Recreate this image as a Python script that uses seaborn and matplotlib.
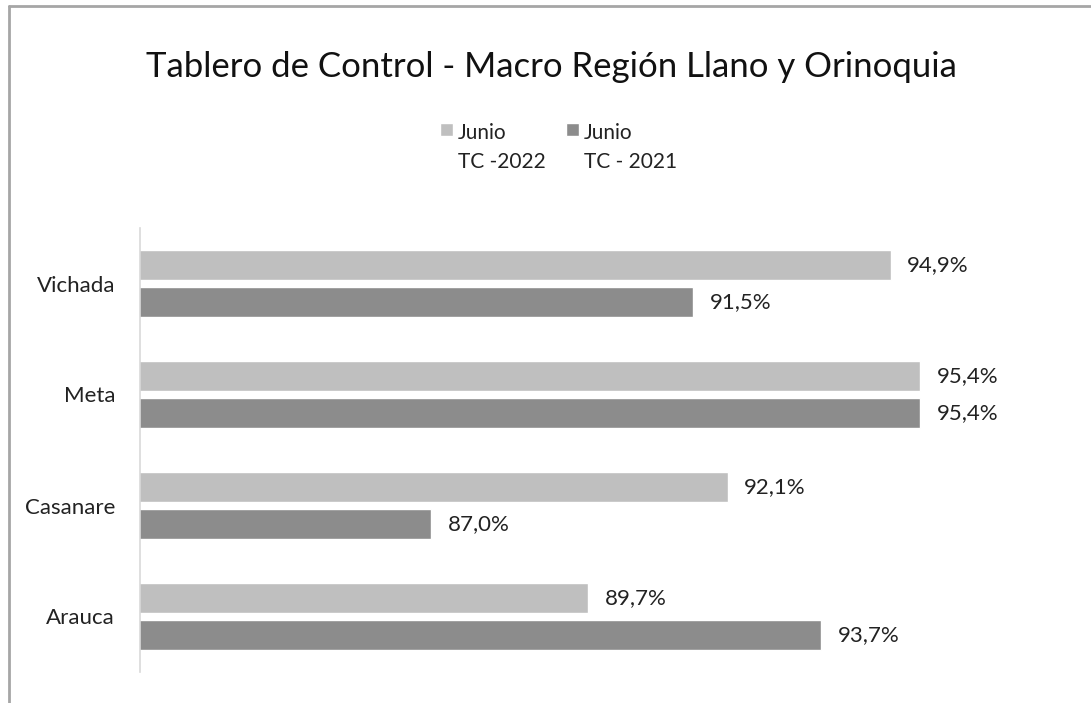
import matplotlib
matplotlib.use("Agg")
import matplotlib.pyplot as plt
import seaborn as sns
import pandas as pd
from matplotlib.lines import Line2D

departments = ["Vichada", "Meta", "Casanare", "Arauca"]
series_names = ["Junio\nTC -2022", "Junio\nTC - 2021"]
values_2022 = [94.9, 95.4, 92.1, 89.7]
values_2021 = [91.5, 95.4, 87.0, 93.7]
colors = ["#BFBFBF", "#8C8C8C"]

df = pd.DataFrame({
    "dep": departments * 2,
    "serie": [series_names[0]] * 4 + [series_names[1]] * 4,
    "valor": values_2022 + values_2021,
})

sns.set_style("white")
plt.rcParams["font.family"] = ["Lato", "DejaVu Sans"]

fig = plt.figure(figsize=(10.91, 7.03), dpi=100)
ax = fig.add_axes([140 / 1091, 1 - 672 / 703, (1071 - 140) / 1091, (672 - 228) / 703])

sns.barplot(data=df, y="dep", x="valor", hue="serie", order=departments,
            hue_order=series_names, palette=colors, orient="h",
            width=0.67, gap=0.19, ax=ax, legend=True, saturation=1)

ax.set_xlim(82, 98)
ax.set_ylim(3.5, -0.5)
ax.set_xlabel("")
ax.set_ylabel("")
ax.set_xticks([])
for s in ["top", "right", "bottom"]:
    ax.spines[s].set_visible(False)
ax.spines["left"].set_color("#D9D9D9")
ax.spines["left"].set_linewidth(1.2)
ax.tick_params(axis="y", length=0, labelsize=16, pad=18, colors="#222222")

for cont in ax.containers:
    labels = [f"{v:.1f}%".replace(".", ",") for v in cont.datavalues]
    ax.bar_label(cont, labels=labels, padding=12, fontsize=16, color="#222222")

handles, labs = ax.get_legend_handles_labels()
ax.legend_.remove()
leg = fig.legend(handles, labs, loc="upper center", bbox_to_anchor=(0.512, 0.852),
                 ncol=2, frameon=False, fontsize=15, handlelength=0.6, handleheight=0.6,
                 handletextpad=0.25, columnspacing=1.0)
for t in leg.get_texts():
    t.set_color("#222222")
    t.set_linespacing(1.55)
try:
    for col in leg._legend_handle_box.get_children():
        for hp in col.get_children():
            hp.align = "top"
except Exception:
    pass

fig.text(0.505, 0.905, "Tablero de Control - Macro Región Llano y Orinoquia",
         ha="center", va="center", fontsize=25, color="#111111")

fig.add_artist(Line2D([8.5 / 1091, 8.5 / 1091], [0, 1 - 6 / 703], transform=fig.transFigure,
                      color="#A6A6A6", linewidth=2))
fig.add_artist(Line2D([8.5 / 1091, 1], [1 - 6 / 703, 1 - 6 / 703], transform=fig.transFigure,
                      color="#A6A6A6", linewidth=2))

fig.savefig("out.png", dpi=100)
